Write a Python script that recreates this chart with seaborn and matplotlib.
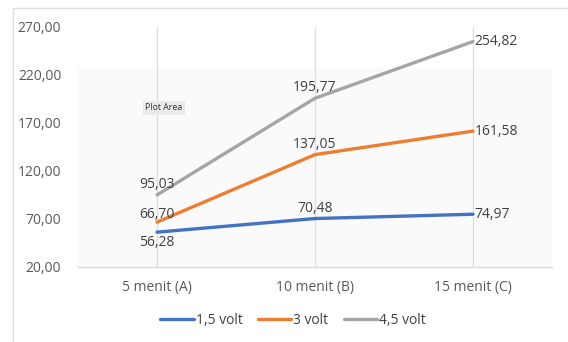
import matplotlib
matplotlib.use("Agg")
import matplotlib.pyplot as plt
from matplotlib.patches import Rectangle
import seaborn as sns
import pandas as pd

# Measurement data
categories = ["5 menit (A)", "10 menit (B)", "15 menit (C)"]
series_names = ["1,5 volt", "3 volt", "4,5 volt"]
volt_1_5 = [56.28, 70.48, 74.97]
volt_3 = [66.70, 137.05, 161.58]
volt_4_5 = [95.03, 195.77, 254.82]
y_ticks = [20, 70, 120, 170, 220, 270]
colors = ["#4472C4", "#ED7D31", "#A5A5A5"]

rows = []
for name, vals in zip(series_names, [volt_1_5, volt_3, volt_4_5]):
    for cat, v in zip(categories, vals):
        rows.append({"Waktu": cat, "Nilai": v, "Seri": name})
df = pd.DataFrame(rows)

sns.set_theme(style="white")
plt.rcParams["font.family"] = ["Open Sans", "DejaVu Sans"]

fig = plt.figure(figsize=(5.68, 3.42), dpi=100)
ax = fig.add_axes([78 / 568, 1 - 267 / 342, (552 - 78) / 568, (267 - 27) / 342])

# outer chart frame (left and top edges visible)
fig.patches.append(Rectangle((13 / 568, -0.1), 1.2, 1 - 8 / 342 + 0.1,
                             transform=fig.transFigure, fill=False,
                             edgecolor="#DEDEDE", lw=1.0, zorder=0))

# faint plot-area shading
ax.add_patch(Rectangle((0, 0), 1, (267 - 68) / 240,
                       transform=ax.transAxes, facecolor="#FAFAFA",
                       edgecolor="none", zorder=0))

sns.lineplot(data=df, x="Waktu", y="Nilai", hue="Seri", palette=colors,
             linewidth=2.4, sort=False, ax=ax, legend=True, zorder=3)

ax.set_xlim(-0.5, 2.5)
ax.set_ylim(20, 270)
ax.set_yticks(y_ticks)
ax.set_yticklabels([f"{v:.2f}".replace(".", ",") for v in y_ticks])
ax.set_xticks(range(len(categories)))
ax.set_xticklabels(categories)
ax.set_xlabel("")
ax.set_ylabel("")

for i in range(len(categories)):
    ax.axvline(i, color="#DDDDDD", lw=0.9, zorder=1)

for s in ["top", "right", "left"]:
    ax.spines[s].set_visible(False)
ax.spines["bottom"].set_color("#D9D9D9")
ax.spines["bottom"].set_linewidth(1.0)

ax.tick_params(axis="y", length=0, pad=12, labelsize=10, labelcolor="#595959")
ax.tick_params(axis="x", length=0, pad=9, labelsize=10, labelcolor="#595959")

# data labels
def fmt(v):
    return f"{v:.2f}".replace(".", ",")

placements = {
    "1,5 volt": ["below", "above", "right"],
    "3 volt": ["above0", "above", "right"],
    "4,5 volt": ["above", "above", "right"],
}
for name, vals in zip(series_names, [volt_1_5, volt_3, volt_4_5]):
    for i, v in enumerate(vals):
        pos = placements[name][i]
        if pos == "above":
            kw = dict(xytext=(0, 2), ha="center", va="bottom")
        elif pos == "above0":
            kw = dict(xytext=(0, 0), ha="center", va="bottom")
        elif pos == "below":
            kw = dict(xytext=(0, -2), ha="center", va="top")
        else:
            kw = dict(xytext=(1, 0), ha="left", va="center")
        ax.annotate(fmt(v), (i, v), textcoords="offset points",
                    fontsize=10, color="#404040", zorder=5, **kw)

# hover tooltip text
fig.text(164 / 568, 1 - 108 / 342, "Plot Area", fontsize=6.3, color="#333333",
         ha="center", va="center",
         bbox=dict(boxstyle="square,pad=0.3", facecolor="#EBEBEB",
                   edgecolor="none"))

handles, labels = ax.get_legend_handles_labels()
ax.legend_.remove()
fig.legend(handles, labels, loc="center", bbox_to_anchor=(293 / 568, 1 - 320 / 342),
           ncol=3, frameon=False, fontsize=10, handlelength=2.4,
           handletextpad=0.15, columnspacing=1.1, labelcolor="#404040")

fig.savefig("out.png", dpi=100)
